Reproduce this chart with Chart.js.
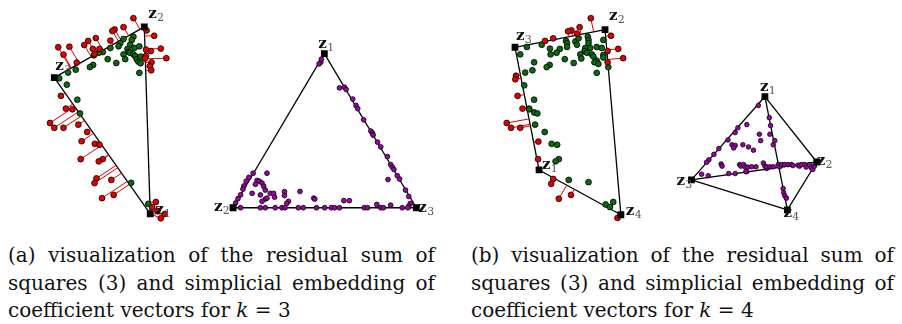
<!DOCTYPE html>
<html><head><meta charset="utf-8">
<script src="https://cdn.jsdelivr.net/npm/chart.js@4/dist/chart.umd.min.js"></script>
<style>
html,body{margin:0;padding:0;background:#fff;width:902px;height:324px;overflow:hidden;position:relative}
#c{position:absolute;left:0;top:0}
.cap{position:absolute;font-family:"DejaVu Serif",serif;font-size:20px;line-height:27.5px;color:#111}
.cap div{white-space:nowrap}
.cap .j{text-align:justify;text-align-last:justify;white-space:normal}
</style></head>
<body>
<canvas id="c" width="902" height="232"></canvas>
<div class="cap" style="left:8px;top:242px;width:427px">
<div class="j">(a) visualization of the residual sum of</div>
<div class="j">squares (3) and simplicial embedding of</div>
<div>coefficient vectors for <i>k</i> = 3</div>
</div>
<div class="cap" style="left:471px;top:242px;width:423px">
<div class="j">(b) visualization of the residual sum of</div>
<div class="j">squares (3) and simplicial embedding of</div>
<div>coefficient vectors for <i>k</i> = 4</div>
</div>
<script>
// ---------- data (figure units) ----------
// panel (a) left: k=3 polygon, vertices z1,z2,z3
const vertsA = [[147,218],[141,23],[50,76]];
const edgesA = [[2,1],[1,0],[2,0]];
const redA = [[130,14],[120,23.3],[111,25.7],[108.7,27.3],[106.7,37.3],[92,34.7],[84.3,37.7],[80.3,42],[89,46],[95.7,46],[90.7,51.7],[65.3,43.7],[54,44.3],[59.3,52],[72.7,60.3],[151,32.3],[157.7,45.7],[142.7,46.7],[147.7,48.3],[163.3,55.7],[142.7,53.3],[141.7,56],[148.3,60],[146.7,64],[148,68.3],[143.3,26.7],[56.7,95],[61.7,108.3],[68.3,109],[45.7,123.3],[50,128.3],[59.3,128.3],[74.3,125],[83.3,132.7],[77.7,142.3],[91,145],[95.7,146],[76.7,161],[99,161],[95,163.3],[92.7,181],[90.7,186],[107.7,182.7],[110,198.3],[98.3,201.7],[152.7,205.7],[149,211],[161.7,218.3],[157.7,222.7],[154.3,215]];
const greenA = [[120,35.7],[116.7,40],[115,43.3],[106.7,45],[99,49.3],[95,50],[90,52.7],[130,33.3],[128.3,36.7],[126.7,41.7],[131,45],[136,43.3],[124,46],[125,49.3],[126.7,50],[130,51.7],[131.7,53.3],[133.3,56.7],[135,59.3],[137.3,61],[137.3,54],[120,51.7],[121.7,56.7],[112.7,60.7],[104,56.7],[89.3,62.7],[86,65],[71.7,67.7],[64,70.7],[55,76.7],[136,71],[62.7,83.3],[73.3,99],[76,113.3],[127.7,185.7],[145,207.7]];
// panel (a) right: simplex embedding k=3, vertices z1,z2,z3
const vertsT = [[323,51],[230.7,211.7],[416,211.7]];
const edgesT = [[0,1],[1,2],[0,2]];
const purpleT = [[319.3,60],[317.7,61.7],[320,56.7],[338.3,86.7],[343.3,86],[345,88.3],[351.7,98.3],[355,105],[356.7,108.3],[362.7,120],[370,131.7],[371.7,134],[372.3,136],[376.7,143.3],[380,148.3],[386.7,158.3],[390,166.7],[391.7,169.3],[393.3,171.7],[396.7,178.3],[399,181.7],[387.3,182.3],[405,193.3],[408.3,200],[410,207.3],[408.3,210],[251,175.7],[246.7,180],[244,184],[241.7,189],[240.7,192.3],[238.3,198.3],[235.7,202.3],[233.3,206.7],[231.7,211.7],[265,175.7],[255,183.3],[257.3,184],[260,186],[261.7,189.3],[263.3,193.3],[253.3,187.3],[250,196.7],[258.3,198.3],[268.3,196.7],[271.7,196.7],[272.7,200.7],[263.3,202.7],[260,205],[265,201.7],[282.7,195],[282.7,199],[286.7,205],[285,207.3],[298.3,194.7],[312.3,201.7],[313.3,202.7],[342.7,204.3],[348.3,204.3],[376,208.3],[390,209],[238.3,211.7],[258.3,211.7],[263.3,211.7],[273.3,211.7],[280,211.7],[283.3,211.7],[296.7,211.7],[301.7,211.7],[315,211.7],[323.3,211.7],[330,211.7],[333.3,211.7],[338.3,211.7],[363.3,211.7],[366.7,211.7],[380,211.7],[382.7,211.7],[401.7,211.7],[407.3,211.7]];
// panel (b) left: k=4 polygon, vertices z1,z2,z3,z4
const vertsB = [[540,172.3],[606.7,26],[515.7,44.3],[622.7,219]];
const edgesB = [[2,1],[1,3],[2,0],[0,3]];
const redB = [[592.3,14],[581,23.3],[572.7,26.7],[569.3,27.7],[578.3,30],[554.3,35],[546,37.7],[612.7,32.3],[620,46],[609.3,48.3],[625,55.7],[609.3,60],[516.7,74],[516,77.7],[518.3,95],[523.3,108.3],[507.3,123.3],[511.7,128.3],[521,128.3],[539.3,142.7],[539,161],[554.3,181.7],[552.3,186.7],[572.3,198.3],[560,202.3],[622.7,219],[619.3,222.3]];
const greenB = [[527.7,44],[542.7,41.7],[551,45.7],[561,46],[567.3,37.7],[568.3,40],[576.7,38.3],[578.3,41.7],[580,35],[589.3,33.3],[590,36.7],[590,40],[586.7,45],[591.7,45],[598.3,44],[605,36.7],[603.3,45],[586,48.3],[588.3,50],[593.3,51.7],[595,54],[598.3,58.3],[596,60],[600,61.7],[605,52.3],[605,55],[598.3,71],[581.7,51.7],[582.7,56],[575,60.7],[566,56.7],[557.7,50],[551.7,51.7],[550.7,62.7],[547.7,65],[535,60],[533.3,68.3],[526,70.7],[521,51.7],[525,84],[535,99],[610,65],[568.3,44],[530,108.3],[530,109],[535,112.3],[538.3,113.3],[536,125],[545.7,132.7],[552.7,145],[558.3,146],[560,161],[556.7,163.3],[570,182.7],[590,185],[607.3,208.3],[611.7,211],[615,205.7]];
// panel (b) right: simplex embedding k=4 (projected tetrahedron), vertices z1..z4
const vertsTet = [[768.3,95.7],[820.7,164],[694,182.7],[791,214]];
const edgesTet = [[0,1],[0,2],[0,3],[1,2],[1,3],[2,3]];
const purpleTet = [[761.7,105],[741,128.3],[738.3,133.3],[731,141],[721.7,150],[711.7,161.7],[709.3,164.3],[704.3,176.7],[711,178.3],[772.7,117.7],[774,126],[776.7,146],[786.7,191.7],[787.3,196],[788.3,199.3],[790,201.7],[731.7,176],[738.3,176],[750,174],[770,170.7],[750,125],[762.7,135],[764,141.7],[773.3,135],[778.3,141.7],[735,146],[738.3,146.7],[736.7,149.3],[746,146],[751.7,148.3],[756.7,151.7],[716.7,156],[724,166],[725,168.3],[742.7,166.7],[744,168.3],[746.7,166.7],[748.3,169.3],[751,169.3],[755,169],[759.3,169],[766.7,165],[768.3,168.3],[770,169],[773.3,169],[776.7,169],[781.7,166.7],[783.3,169],[785,166.7],[788.3,166.7],[791.7,166.7],[795,166.7],[796.7,167.7],[801.7,167.3],[803.3,168.3],[805,166.7],[808.3,166.7],[810,169.3],[813.3,166.7],[815,170],[816.7,171.7],[818.3,168.3],[749,174]];
const vertexNames = ['1','2','3','4'];

// ---------- styles ----------
const RED='#e30000', GREEN='#0a6a10', PURPLE='#a000a8';
const labelOffsets = {
  A:[[5,0],[4,-9],[1,-8]],
  T:[[-6,-6],[-19,3],[2,4]],
  B:[[3,-1],[4,-10],[1,-7],[5,0]],
  Tet:[[-5,-6],[0,3],[-15,5],[-4,7]]
};

const pts = a => a.map(([x,y])=>({x,y}));
const datasets = [];
function addEdges(verts, edges){
  edges.forEach(([i,j])=>{
    datasets.push({type:'scatter',data:pts([verts[i],verts[j]]),showLine:true,borderColor:'#000',borderWidth:1.3,pointRadius:0,order:5});
  });
}
function nearestOnEdges(p, verts, edges){
  let best=null, bd=Infinity;
  edges.forEach(([i,j])=>{
    const a=verts[i], b=verts[j];
    const dx=b[0]-a[0], dy=b[1]-a[1];
    let t=((p[0]-a[0])*dx+(p[1]-a[1])*dy)/(dx*dx+dy*dy);
    t=Math.max(0,Math.min(1,t));
    const q=[a[0]+t*dx,a[1]+t*dy];
    const d=Math.hypot(p[0]-q[0],p[1]-q[1]);
    if(d<bd){bd=d;best=q;}
  });
  return best;
}
function addResiduals(red, verts, edges){
  red.forEach(p=>{
    const q=nearestOnEdges(p,verts,edges);
    datasets.push({type:'scatter',data:pts([p,q]),showLine:true,borderColor:RED,borderWidth:1,pointRadius:0,order:4});
  });
}
function addPoints(arr,color,r,order){
  datasets.push({type:'scatter',data:pts(arr),backgroundColor:color,borderColor:'#000',borderWidth:0.8,pointRadius:r,order});
}
function addVerts(verts){
  datasets.push({type:'scatter',data:pts(verts),pointStyle:'rect',backgroundColor:'#000',borderColor:'#000',borderWidth:0,pointRadius:4.8,order:0});
}

addEdges(vertsA,edgesA); addEdges(vertsT,edgesT); addEdges(vertsB,edgesB); addEdges(vertsTet,edgesTet);
addResiduals(redA,vertsA,edgesA); addResiduals(redB,vertsB,edgesB);
addPoints(greenA,GREEN,2.9,2); addPoints(greenB,GREEN,2.9,2);
addPoints(redA,RED,2.9,1); addPoints(redB,RED,2.9,1);
addPoints(purpleT,PURPLE,2.4,1); addPoints(purpleTet,PURPLE,2.3,1);
addVerts(vertsA); addVerts(vertsT); addVerts(vertsB); addVerts(vertsTet);

const panels=[[vertsA,labelOffsets.A],[vertsT,labelOffsets.T],[vertsB,labelOffsets.B],[vertsTet,labelOffsets.Tet]];
const labelPlugin={id:'vlabels',afterDatasetsDraw(chart){
  const ctx=chart.ctx, xs=chart.scales.x, ys=chart.scales.y;
  ctx.save();
  panels.forEach(([verts,offs])=>{
    verts.forEach((v,i)=>{
      const px=xs.getPixelForValue(v[0])+offs[i][0], py=ys.getPixelForValue(v[1])+offs[i][1];
      ctx.fillStyle='#111'; ctx.textBaseline='alphabetic'; ctx.textAlign='left';
      ctx.font='bold 15px "DejaVu Serif", serif';
      ctx.fillText('z',px,py);
      const w=ctx.measureText('z').width;
      ctx.fillStyle='#555';
      ctx.font='11px "DejaVu Serif", serif';
      ctx.fillText(vertexNames[i],px+w+0.3,py+3);
    });
  });
  ctx.restore();
}};

new Chart(document.getElementById('c'),{
  type:'scatter',
  data:{datasets},
  options:{
    responsive:false,animation:false,devicePixelRatio:1,
    layout:{padding:0},
    plugins:{legend:{display:false},tooltip:{enabled:false}},
    scales:{
      x:{type:'linear',min:0,max:902,display:false},
      y:{type:'linear',min:0,max:232,reverse:true,display:false}
    },
    elements:{line:{tension:0}}
  },
  plugins:[labelPlugin]
});
</script>
</body></html>
